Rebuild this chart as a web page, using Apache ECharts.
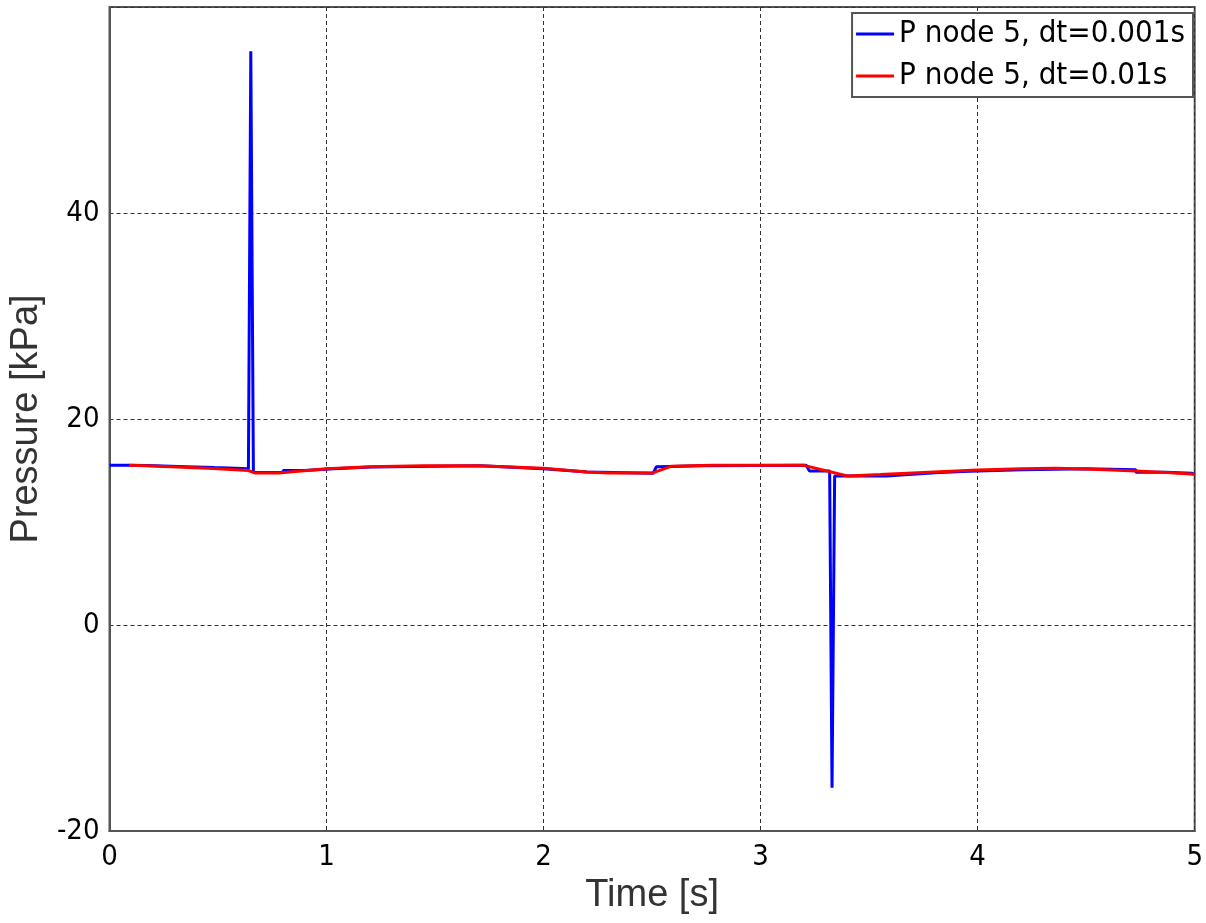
<!DOCTYPE html>
<html>
<head>
<meta charset="utf-8">
<script src="https://cdn.jsdelivr.net/npm/echarts@6/dist/echarts.min.js"></script>
<style>html,body{margin:0;padding:0;background:#fff}#c{width:1206px;height:923px}</style>
</head>
<body>
<div id="c"></div>
<script>
// Series names
const seriesNames = ['P node 5, dt=0.001s', 'P node 5, dt=0.01s'];
// Tick values
const xTicks = [0, 1, 2, 3, 4, 5];
const yTicks = [-20, 0, 20, 40];
// dt=0.001s (blue, stepwise, corners listed): [time s, pressure kPa]
const blueData = [
  [0, 15.5], [0.087, 15.5], [0.087, 15.48], [0.17, 15.48], [0.17, 15.37],
  [0.354, 15.37], [0.354, 15.28], [0.483, 15.28], [0.483, 15.18], [0.64, 15.18],
  [0.651, 55.7], [0.663, 14.8], [0.8, 14.8], [0.8, 15.0], [0.896, 15.0],
  [0.896, 15.18], [1.034, 15.18], [1.034, 15.34], [1.204, 15.34], [1.204, 15.47],
  [1.71, 15.47], [1.71, 15.28], [1.88, 15.28], [1.88, 15.15], [2.017, 15.15],
  [2.017, 15.0], [2.109, 15.0], [2.109, 14.85], [2.201, 14.85], [2.201, 14.73],
  [2.505, 14.73], [2.52, 15.37], [2.592, 15.4], [2.592, 15.45], [2.721, 15.45],
  [2.721, 15.5], [3.21, 15.5], [3.225, 14.95], [3.318, 14.95], [3.329, -15.8],
  [3.341, 14.47], [3.58, 14.47], [3.58, 14.63], [3.699, 14.63], [3.699, 14.8],
  [3.824, 14.8], [3.824, 14.92], [3.961, 14.92], [3.961, 15.08], [4.205, 15.08],
  [4.205, 15.18], [4.499, 15.18], [4.499, 15.08], [4.729, 15.08], [4.729, 14.83],
  [4.867, 14.83], [4.867, 14.73], [4.986, 14.73], [4.986, 14.63], [5.0, 14.63]
];
// dt=0.01s (red)
const redData = [
  [0.09, 15.5], [0.17, 15.45], [0.48, 15.2], [0.64, 15.0], [0.67, 14.76],
  [0.78, 14.76], [1.0, 15.18], [1.2, 15.37], [1.45, 15.47], [1.7, 15.45],
  [2.0, 15.21], [2.2, 14.85], [2.3, 14.75], [2.5, 14.75], [2.59, 15.42],
  [2.78, 15.5], [3.2, 15.5], [3.4, 14.47], [3.55, 14.6], [3.8, 14.85],
  [4.0, 15.05], [4.2, 15.18], [4.36, 15.21], [4.5, 15.15], [4.73, 14.95],
  [4.87, 14.8], [5.0, 14.63]
];

const tickFont = '"DejaVu Sans Condensed", "DejaVu Sans", "Liberation Sans", sans-serif';
const nameFont = '"Liberation Sans", Arial, sans-serif';

const chart = echarts.init(document.getElementById('c'), null, {renderer: 'canvas'});
chart.setOption({
  animation: false,
  backgroundColor: '#fff',
  grid: {left: 108, right: 9, top: 7, bottom: 92, show: true, borderColor: '#555', borderWidth: 2, containLabel: false},
  legend: {
    orient: 'vertical', right: 13, top: 13,
    data: seriesNames,
    icon: 'rect', itemWidth: 38, itemHeight: 3, itemGap: 8, itemTextGap: 5,
    padding: [4, 8, 4, 4],
    borderColor: '#555', borderWidth: 2, backgroundColor: '#fff',
    textStyle: {fontFamily: tickFont, fontSize: 31, color: '#000', lineHeight: 34}
  },
  xAxis: {
    type: 'value', min: xTicks[0], max: xTicks[xTicks.length - 1], interval: 1,
    name: 'Time [s]', nameLocation: 'middle', nameGap: 31,
    nameTextStyle: {fontFamily: nameFont, fontSize: 38, color: '#333'},
    axisLine: {show: true, onZero: false, lineStyle: {color: '#555', width: 2}},
    axisTick: {show: false},
    axisLabel: {fontFamily: tickFont, fontSize: 29, color: '#000', margin: 12},
    splitLine: {show: true, lineStyle: {color: '#333', type: [4, 3], width: 1}}
  },
  yAxis: {
    type: 'value', min: -20, max: 60, interval: 20,
    name: 'Pressure [kPa]', nameLocation: 'middle', nameGap: 49,
    nameTextStyle: {fontFamily: nameFont, fontSize: 38, color: '#333'},
    axisLine: {show: true, onZero: false, lineStyle: {color: '#555', width: 2}},
    axisTick: {show: false},
    axisLabel: {fontFamily: tickFont, fontSize: 29, color: '#000', margin: 10,
      formatter: v => (yTicks.indexOf(v) >= 0 ? String(v) : '')},
    splitLine: {show: true, lineStyle: {color: '#333', type: [4, 3], width: 1}}
  },
  series: [
    {name: seriesNames[0], type: 'line', data: blueData, symbol: 'none',
     lineStyle: {color: '#0000ff', width: 3}, itemStyle: {color: '#0000ff'}, z: 2},
    {name: seriesNames[1], type: 'line', data: redData, symbol: 'none',
     lineStyle: {color: '#ff0000', width: 3}, itemStyle: {color: '#ff0000'}, z: 3}
  ]
});
</script>
</body>
</html>
